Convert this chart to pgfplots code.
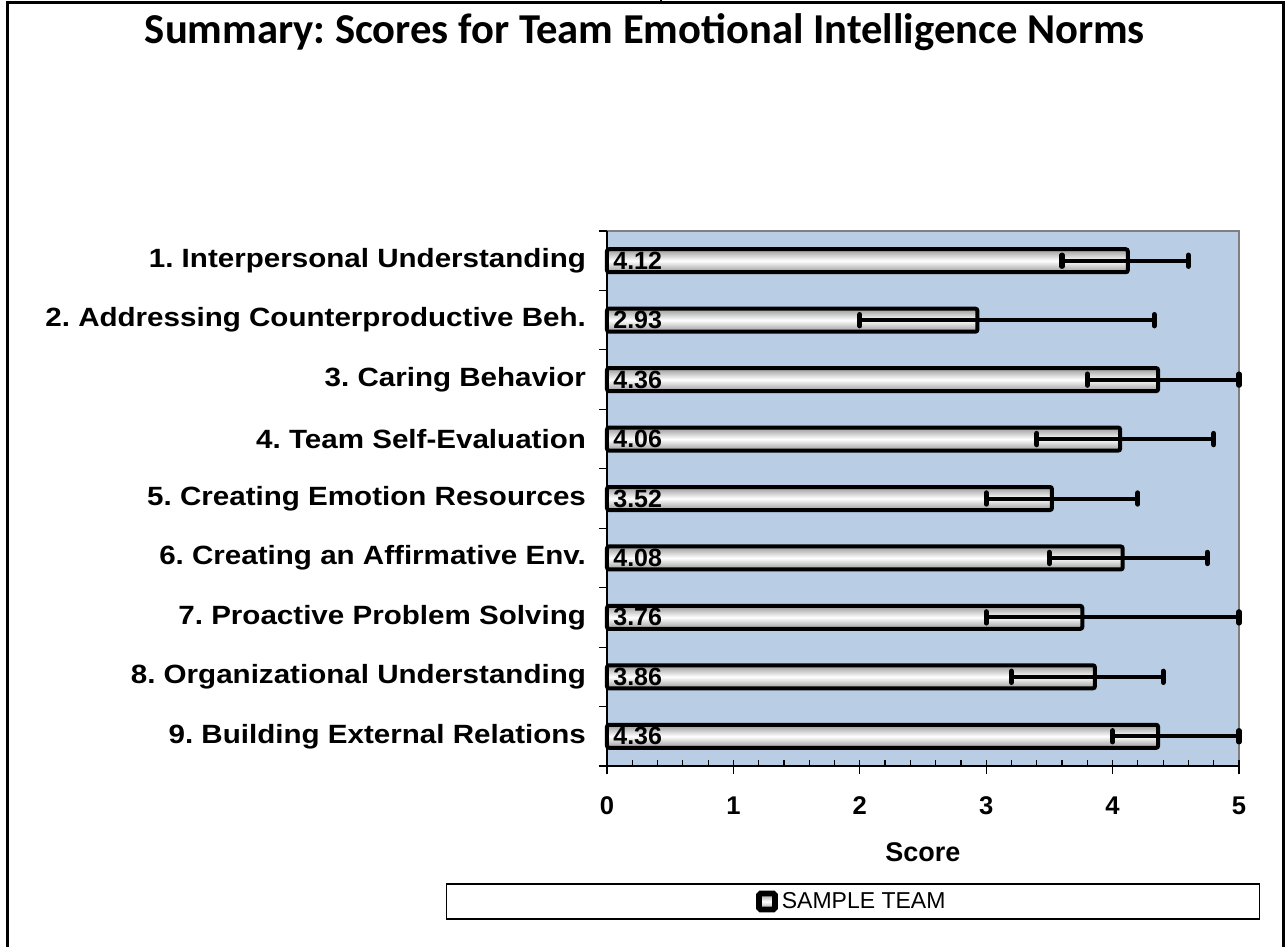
\documentclass[border=0pt]{standalone}
\usepackage{fontspec}
\setmainfont{Liberation Sans}
\newfontfamily\titlefont{Carlito}
\newfontfamily\labelfont{Liberation Sans}[FakeStretch=1.12]
\usepackage{pgfplots}
\usepackage{pgfplotstable}
\pgfplotsset{compat=1.18}
\definecolor{bgblue}{RGB}{185,205,229}
\pgfdeclareplotmark{capv}{%
  \pgfsetlinewidth{2.6pt}\pgfsetroundcap
  \pgfpathmoveto{\pgfqpoint{0pt}{\pgfplotmarksize}}%
  \pgfpathlineto{\pgfqpoint{0pt}{-\pgfplotmarksize}}%
  \pgfusepathqstroke}
\pgfplotstableread{
i v
1 4.12
2 2.93
3 4.36
4 4.06
5 3.52
6 4.08
7 3.76
8 3.86
9 4.36
}\data
\pgfplotsset{
  mybar/.style={xbar, bar width=11.5pt, bar shift=0pt, draw=black, line width=2pt, rounded corners=1pt,
    top color=gray!80, bottom color=gray!80, middle color=white,
    error bars/x dir=both, error bars/x explicit,
    error bars/error bar style={line width=2pt, black},
    error bars/error mark=capv,
    error bars/error mark options={mark size=2.8pt, black}},
}
\begin{document}
\frenchspacing
\begin{tikzpicture}
\useasboundingbox (-303.5pt,-90.5pt) rectangle (339pt,383pt);
\draw[line width=1.5pt] (-299.5pt,-92pt) -- (-299.5pt,381.5pt) -- (338pt,381.5pt) -- (338pt,-92pt);
\draw[line width=1pt] (27pt,381.5pt) -- (27pt,384pt);
\node[anchor=base, font=\titlefont\bfseries\fontsize{21.3}{25}\selectfont] at (19pt,361pt) {Summary: Scores for Team Emotional Intelligence Norms};
\begin{axis}[
  at={(0pt,0pt)}, anchor=south west,
  width=316pt, height=267.5pt, scale only axis,
  xmin=0, xmax=5, ymin=0.5, ymax=9.5,
  axis background/.style={fill=bgblue, draw=gray, line width=0.6pt},
  axis x line*=bottom, axis y line*=left,
  axis line style={black, line width=0.8pt},
  tick align=outside, major tick length=4pt,
  tick style={black, line width=0.6pt},
  xtick={0,1,2,3,4,5},
  extra x ticks={0,0.2,0.4,0.6,0.8,1,1.2,1.4,1.6,1.8,2,2.2,2.4,2.6,2.8,3,3.2,3.4,3.6,3.8,4,4.2,4.4,4.6,4.8,5},
  extra x tick labels={},
  extra x tick style={tick align=inside, major tick length=3pt, tick label style={text opacity=0}},
  ytick={0.5,1.5,2.5,3.5,4.5,5.5,6.5,7.5,8.5,9.5},
  yticklabel={\mbox{}},
  extra y ticks={1,2,3,4,5,6,7,8,9},
  extra y tick labels={9. Building External Relations,8. Organizational Understanding,7. Proactive Problem Solving,6. Creating an Affirmative Env.,5. Creating Emotion Resources,4. Team Self-Evaluation,3. Caring Behavior,2. Addressing Counterproductive Beh.,1. Interpersonal Understanding},
  extra y tick style={major tick length=0pt},
  /pgf/number format/assume math mode=true,
  xticklabel style={font=\bfseries\fontsize{12.8}{14}\selectfont, anchor=north, yshift=-8pt},
  yticklabel style={font=\labelfont\bfseries\fontsize{13.2}{15}\selectfont, anchor=east, xshift=-7pt},
  xlabel={Score},
  every axis x label/.style={at={(axis description cs:0.5,0)}, anchor=center, yshift=-43pt, font=\bfseries\fontsize{13.5}{16}\selectfont},
  legend style={at={(axis description cs:0.389,-0.2533)}, anchor=center, draw=black, line width=0.6pt, inner xsep=155pt, inner ysep=2pt, font=\fontsize{11.5}{13}\selectfont},
  clip=false,
]
\addplot[legend image code/.code={\draw[line width=2.8pt, fill=gray!40, rounded corners=0.8pt] (0.3pt,-4pt) rectangle (8.3pt,4pt);}, mybar]
  coordinates {(4.12,9) += (0.48,0) -= (0.52,0)};
\addlegendentry{SAMPLE TEAM}
\addplot[forget plot, mybar] coordinates {(2.93,8) += (1.40,0) -= (0.93,0)};
\addplot[forget plot, mybar] coordinates {(4.36,7) += (0.64,0) -= (0.56,0)};
\addplot[forget plot, mybar] coordinates {(4.06,6) += (0.74,0) -= (0.66,0)};
\addplot[forget plot, mybar] coordinates {(3.52,5) += (0.68,0) -= (0.52,0)};
\addplot[forget plot, mybar] coordinates {(4.08,4) += (0.67,0) -= (0.58,0)};
\addplot[forget plot, mybar] coordinates {(3.76,3) += (1.24,0) -= (0.76,0)};
\addplot[forget plot, mybar] coordinates {(3.86,2) += (0.54,0) -= (0.66,0)};
\addplot[forget plot, mybar] coordinates {(4.36,1) += (0.64,0) -= (0.36,0)};
\addplot[forget plot, draw=none, mark=none, nodes near coords, point meta=explicit,
  nodes near coords={\pgfmathprintnumber[fixed,precision=2,fixed zerofill]{\pgfplotspointmeta}},
  every node near coord/.style={anchor=west, inner sep=0pt, xshift=3pt, font=\bfseries\fontsize{12.5}{12}\selectfont, /pgf/number format/assume math mode=true}]
  table[x expr=0, y expr=10-\thisrow{i}, meta=v] {\data};
\end{axis}
\end{tikzpicture}
\end{document}
